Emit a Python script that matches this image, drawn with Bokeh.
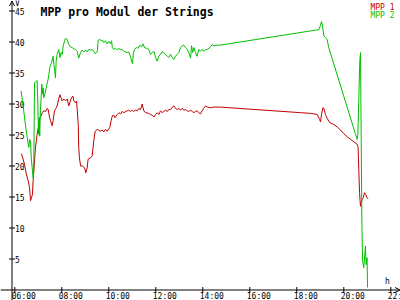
import math
from bokeh.plotting import figure
from bokeh.models import Range1d, Arrow, OpenHead
from bokeh.core.properties import value
from bokeh.embed import file_html
from bokeh.resources import INLINE

# ---- data (hours of day, volts) ----
t1 = [6.28, 6.34, 6.41, 6.49, 6.57, 6.63, 6.67, 6.71, 6.75, 6.78, 6.84, 6.88, 6.95, 7.02, 7.06,
      7.12, 7.17, 7.23, 7.31, 7.38, 7.42, 7.48, 7.52, 7.59, 7.63, 7.69, 7.75, 7.80, 7.87, 7.92,
      7.97, 8.02, 8.09, 8.16, 8.23, 8.30, 8.34, 8.41, 8.47, 8.51, 8.58, 8.63, 8.66, 8.70, 8.72,
      8.75, 8.80, 8.88, 8.97, 9.02, 9.08, 9.12, 9.22, 9.29, 9.36, 9.42, 9.51, 9.65, 9.72, 9.79,
      9.86, 9.93, 10.04, 10.10, 10.15, 10.21, 10.26, 10.36, 10.43, 10.50, 10.57, 10.64, 10.78,
      10.85, 10.92, 11.00, 11.06, 11.14, 11.21, 11.28, 11.35, 11.42, 11.49, 11.56, 11.70, 11.77,
      11.85, 11.92, 11.99, 12.06, 12.13, 12.20, 12.27, 12.34, 12.41, 12.49, 12.55, 12.63, 12.70,
      12.77, 12.84, 12.91, 12.98, 13.05, 13.12, 13.19, 13.26, 13.34, 13.40, 13.48, 13.55, 13.62,
      13.69, 13.76, 13.83, 13.90, 13.97, 14.04, 14.12, 14.19, 14.33, 14.47, 14.75, 18.16, 18.58,
      18.87, 18.97, 19.01, 19.05, 19.11, 19.15, 19.22, 19.29, 19.40, 19.57, 19.72, 19.86, 20.00,
      20.15, 20.29, 20.43, 20.57, 20.61, 20.64, 20.67, 20.71, 20.74, 20.78, 20.83, 20.88, 20.93,
      20.99, 21.03]
v1 = [22.0, 21.3, 20.3, 18.7, 17.6, 16.5, 14.4, 14.9, 15.4, 17.6, 20.8, 23.0, 25.1, 26.7, 27.8,
      28.1, 28.6, 28.9, 28.8, 29.3, 29.1, 27.8, 27.3, 26.5, 27.3, 28.9, 29.3, 29.7, 30.8, 31.5,
      31.0, 30.5, 30.8, 30.5, 30.8, 29.7, 30.2, 31.0, 31.3, 30.5, 30.2, 30.5, 28.9, 26.7, 23.0,
      21.3, 20.0, 20.0, 19.7, 18.9, 19.7, 21.1, 21.3, 21.6, 24.0, 25.6, 25.9, 25.6, 25.8, 25.5,
      25.9, 25.6, 26.2, 27.3, 28.1, 28.2, 27.8, 28.3, 28.6, 28.4, 28.8, 28.6, 28.9,
      29.0, 28.8, 29.0, 28.8, 29.0, 28.9, 29.3, 29.1, 30.0, 28.9, 28.6, 28.5, 28.3,
      28.2, 27.9, 28.3, 28.6, 28.3, 28.9, 28.6, 28.8, 29.0, 28.8, 29.1, 29.1, 29.5,
      29.7, 29.3, 29.1, 29.3, 29.0, 29.3, 29.0, 29.1, 28.9, 28.8, 29.0, 28.8, 28.6,
      28.8, 28.9, 28.6, 28.4, 28.9, 29.3, 29.7, 29.5, 29.4, 29.5, 29.5, 28.6, 28.5,
      28.3, 27.5, 27.1, 28.3, 29.4, 29.3, 28.3, 27.7, 27.0, 26.7, 26.3, 25.8, 25.2,
      24.7, 24.3, 23.9, 23.5, 23.0, 19.2, 15.7, 13.5, 14.1, 14.6, 14.9, 15.7, 15.4,
      14.9, 14.7]

t2 = [6.27, 6.34, 6.38, 6.43, 6.49, 6.53, 6.57, 6.60, 6.63, 6.67, 6.70, 6.74, 6.78, 6.81, 6.84,
      6.89, 6.95, 6.98, 7.01, 7.04, 7.06, 7.09, 7.12, 7.15, 7.18, 7.21, 7.23, 7.28, 7.32, 7.38,
      7.42, 7.45, 7.49, 7.53, 7.57, 7.63, 7.66, 7.70, 7.73, 7.76, 7.80, 7.87, 7.92, 7.97, 8.02,
      8.06, 8.12, 8.16, 8.23, 8.30, 8.37, 8.44, 8.51, 8.58, 8.66, 8.72, 8.77, 8.80, 8.87, 8.94,
      9.01, 9.08, 9.15, 9.22, 9.29, 9.36, 9.43, 9.51, 9.55, 9.62, 9.68, 9.73, 9.79, 9.86, 9.93,
      10.00, 10.07, 10.12, 10.15, 10.21, 10.29, 10.36, 10.43, 10.50, 10.57, 10.64, 10.71, 10.78,
      10.85, 10.92, 10.97, 11.01, 11.04, 11.09, 11.18, 11.25, 11.32, 11.39, 11.46, 11.52, 11.60,
      11.70, 11.77, 11.85, 11.92, 11.99, 12.06, 12.13, 12.20, 12.27, 12.34, 12.41, 12.49, 12.55,
      12.63, 12.70, 12.77, 12.84, 12.91, 12.98, 13.05, 13.12, 13.19, 13.26, 13.34, 13.40, 13.48,
      13.52, 13.57, 13.62, 13.69, 13.76, 13.83, 13.90, 13.97, 14.04, 14.12, 14.19, 14.33, 14.40,
      14.47, 14.61, 14.75, 18.94, 19.01, 19.05, 19.09, 19.15, 19.22, 19.29, 19.36, 20.50, 20.57,
      20.60, 20.64, 20.68, 20.71, 20.74, 20.77, 20.80, 20.85, 20.92, 20.95, 20.99, 21.01]
v2 = [32.1, 30.0, 28.9, 27.3, 25.6, 24.6, 23.5, 23.0, 24.3, 24.0, 21.3, 19.7, 18.1, 20.8, 33.4,
      33.6, 33.8, 30.0, 25.1, 27.8, 24.8, 28.9, 31.0, 33.2, 31.6, 32.6, 31.0, 31.6, 32.4, 33.4,
      34.0, 34.8, 35.9, 36.4, 36.7, 37.7, 36.4, 35.3, 34.2, 36.9, 38.0, 38.8, 37.5, 38.3, 38.0,
      39.4, 40.2, 40.6, 40.4, 39.6, 39.2, 39.1, 38.9, 38.8, 38.5, 37.4, 38.0, 38.3, 38.7, 38.4,
      38.7, 38.4, 38.8, 38.7, 38.8, 38.5, 38.1, 38.5, 40.3, 40.4, 40.2, 40.3, 39.9, 40.2, 39.7,
      40.1, 39.7, 40.2, 39.1, 38.8, 39.0, 38.7, 39.0, 38.7, 38.8, 38.5, 38.4, 38.3,
      38.4, 37.7, 36.9, 36.5, 38.0, 38.8, 39.1, 39.0, 39.5, 39.2, 39.7, 39.1, 39.0,
      38.8, 38.0, 38.3, 38.5, 37.5, 36.9, 37.7, 38.0, 38.4, 38.3, 38.0, 37.7, 37.5,
      38.0, 37.5, 37.2, 37.7, 38.0, 38.3, 39.1, 39.4, 39.5, 39.1, 38.8, 38.3, 37.4,
      39.4, 38.3, 39.1, 38.3, 37.7, 38.8, 38.5, 38.8, 38.5, 38.8, 38.8, 39.2, 39.6,
      39.4, 39.5, 39.5, 42.0, 42.7, 43.3, 42.7, 41.0, 40.7, 40.4, 39.1, 25.1, 24.3,
      25.1, 31.0, 36.9, 38.3, 24.6, 10.6, 4.7, 3.6, 7.1, 4.1, 5.2, 0.4]

x_ticks = [6, 8, 10, 12, 14, 16, 18, 20, 22]
x_tick_labels = ["06:00", "08:00", "10:00", "12:00", "14:00", "16:00", "18:00", "20:00", "22:00"]
y_ticks = [5, 10, 15, 20, 25, 30, 35, 40, 45]
y_tick_labels = ["5", "10", "15", "20", "25", "30", "35", "40", "45"]
series_names = ["MPP 1", "MPP 2"]
title_text = "MPP pro Modul der Strings"

RED = "#c00000"
GREEN = "#00c000"
W, H = 400, 300

# ranges: frame covers the whole canvas
PX_PER_H = 23.5
PX_PER_V = 6.2
X0 = 6 - 14.3 / PX_PER_H
X1 = X0 + W / PX_PER_H
Y1 = 289.5 / PX_PER_V
Y0 = Y1 - H / PX_PER_V

def hx(px):
    return X0 + px / PX_PER_H

def vy(py):
    return Y1 - py / PX_PER_V

p = figure(width=W, height=H, x_range=Range1d(X0, X1), y_range=Range1d(Y0, Y1),
           output_backend="svg", toolbar_location=None,
           x_axis_location=None, y_axis_location=None, min_border=0)
p.grid.visible = False
p.outline_line_color = None
p.background_fill_color = "white"
p.border_fill_color = "white"

mono = value("DejaVu Sans Mono")
AX = hx(11.5)

# axes lines with arrows
p.add_layout(Arrow(end=OpenHead(size=5, line_width=1, line_color="black"),
                   x_start=AX, y_start=Y0, x_end=AX, y_end=vy(0.5),
                   line_color="black", line_width=1))
p.add_layout(Arrow(end=OpenHead(size=5, line_width=1, line_color="black"),
                   x_start=X0, y_start=0, x_end=hx(399.5), y_end=0,
                   line_color="black", line_width=1))

# ticks
p.scatter(x=x_ticks, y=[0] * len(x_ticks), marker="dash", size=6, angle=math.pi / 2,
          line_color="black", line_width=1)
p.scatter(x=[AX] * len(y_ticks), y=y_ticks, marker="dash", size=6,
          line_color="black", line_width=1)

# tick labels
p.text(x=x_ticks, y=[0] * len(x_ticks), text=x_tick_labels, x_offset=-3, y_offset=10.5,
       text_align="left", text_baseline="bottom", text_font=mono, text_font_size="8px",
       text_color="black")
p.text(x=[AX] * len(y_ticks), y=y_ticks, text=y_tick_labels, x_offset=3,
       text_align="left", text_baseline="middle", text_font=mono, text_font_size="8px",
       text_color="black")

# unit labels
p.text(x=[AX], y=[vy(2.5)], text=["V"], x_offset=3, text_align="left", text_baseline="middle",
       text_font=mono, text_font_size="8px", text_color="black")
p.text(x=[hx(387)], y=[vy(281)], text=["h"], text_align="center", text_baseline="middle",
       text_font=mono, text_font_size="8px", text_color="black")

# series
p.line(t1, v1, line_color=RED, line_width=1)
p.line(t2, v2, line_color=GREEN, line_width=1)

# title
p.text(x=[hx(40)], y=[vy(11)], text=[title_text], text_align="left",
       text_baseline="alphabetic", text_font=mono, text_font_style="bold",
       text_font_size="11.5px", text_color="black")

# legend text
p.text(x=[hx(394), hx(394)], y=[vy(7), vy(15)], text=series_names,
       text_color=[RED, GREEN], text_align="right", text_baseline="alphabetic",
       text_font=mono, text_font_size="8px")

open("out.html", "w").write(file_html(p, INLINE))
